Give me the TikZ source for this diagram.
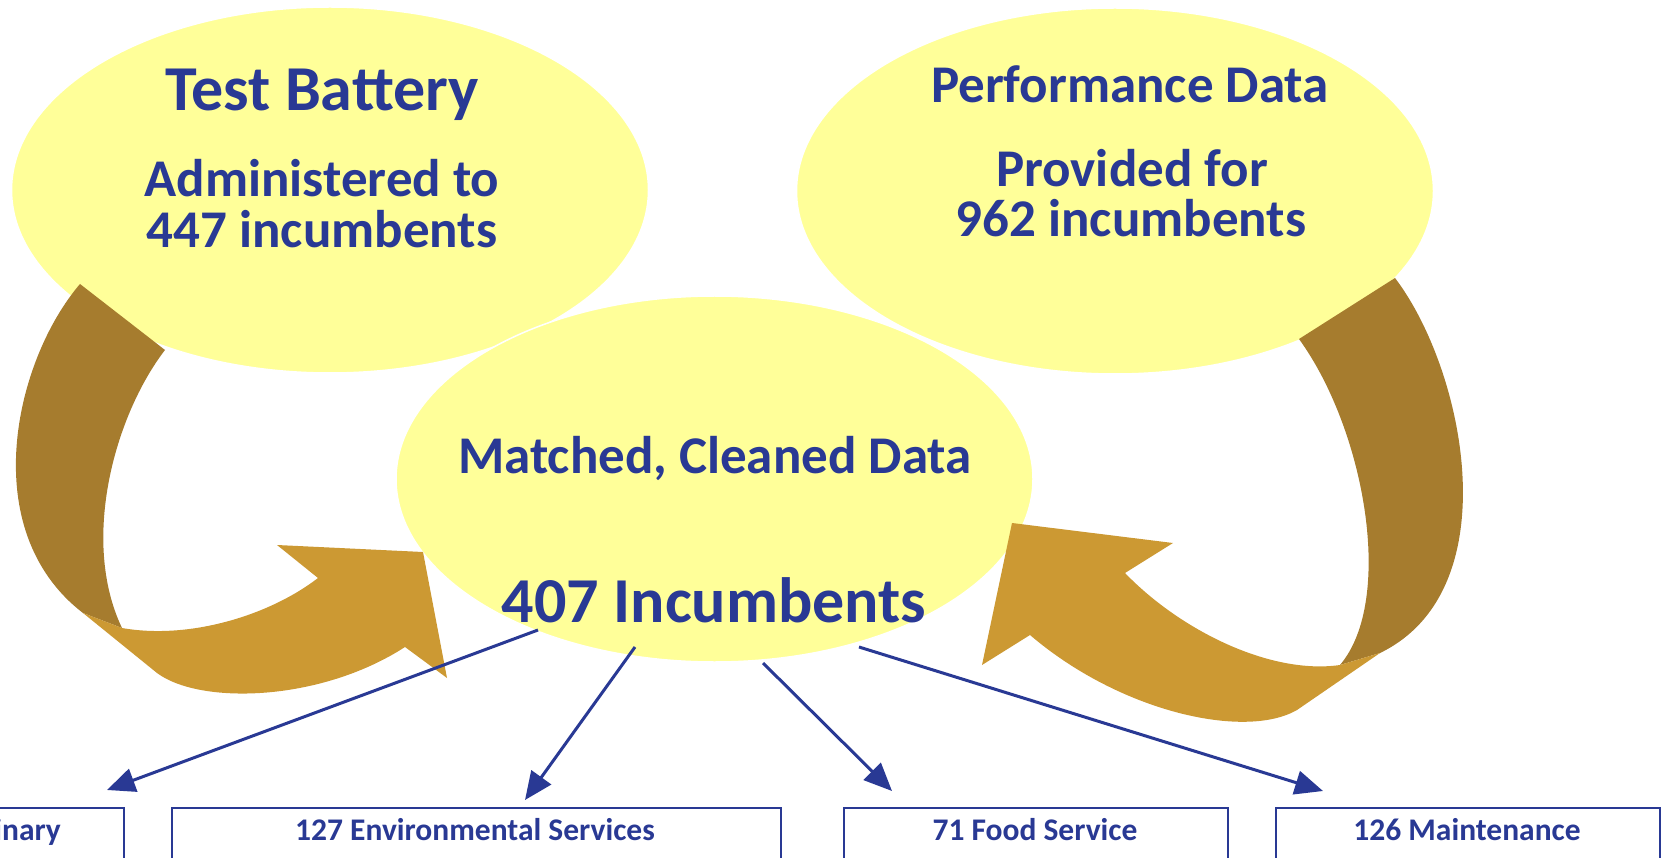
\documentclass[tikz,border=0pt]{standalone}
\usepackage{fontspec}
\setmainfont{Carlito}
\usetikzlibrary{shapes.geometric,arrows.meta}

\definecolor{blobfill}{HTML}{FFFF99}
\definecolor{ink}{RGB}{41,57,148}
\definecolor{tailbrown}{RGB}{166,124,46}
\definecolor{headgold}{RGB}{204,153,51}

\tikzset{
  blob/.style={ellipse, fill=blobfill, draw=white, line width=1.5pt,
    minimum width=637pt, minimum height=366pt, inner sep=0pt},
  bigtxt/.style={text=ink, anchor=base, inner sep=0pt,
    font=\fontsize{64}{64}\selectfont\bfseries},
  midtxt/.style={text=ink, anchor=base, inner sep=0pt,
    font=\fontsize{53}{53}\selectfont\bfseries},
  boxtxt/.style={text=ink, anchor=base, inner sep=0pt,
    font=\fontsize{31.5}{31.5}\selectfont\bfseries},
  groupbox/.style={draw=ink, line width=2pt, rectangle, anchor=north west,
    minimum height=90pt, inner sep=0pt},
  feed/.style={draw=ink, line width=3pt, -{Triangle[length=28pt,width=24pt]}},
}

\begin{document}
\begin{tikzpicture}[x=1pt,y=-1pt]
\useasboundingbox (0,0) rectangle (1662,858);

% the three data sets
\node[blob] (battery) at (330,190) {};
\node[blob] (perf) at (1115,191) {};
\node[blob] (matched) at (714.5,479) {};

% curved arrow on the left: back face, then front face with head
\fill[tailbrown]
  (80,284) .. controls (15,360) and (-25,530) .. (83,613)
  -- (122,628) .. controls (80,540) and (115,415) .. (165,350)
  -- cycle;
\fill[headgold]
  (83,613) -- (157,673) .. controls (200,705) and (320,702) .. (405,647)
  -- (447,678) -- (423,552) -- (277,545) -- (318,578)
  .. controls (270,615) and (190,640) .. (122,628)
  -- cycle;

% curved arrow on the right
\fill[tailbrown]
  (1395,278) .. controls (1465,370) and (1510,590) .. (1380,653)
  -- (1340,665) .. controls (1395,600) and (1365,430) .. (1299,339)
  -- cycle;
\fill[headgold]
  (1380,653) -- (1297,710) .. controls (1245,740) and (1120,712) .. (1030,635)
  -- (982,665) -- (1012,523) -- (1173,543) -- (1125,573)
  .. controls (1180,630) and (1270,675) .. (1340,665)
  -- cycle;

% ellipse texts
\node[bigtxt] (tbtitle) at (322,111) {Test Battery};
\node[midtxt] (tbl1) at (322,197) {Administered to};
\node[midtxt] (tbl2) at (322,248) {447 incumbents};

\node[midtxt] (pdtitle) at (1130,103) {Performance Data};
\node[midtxt] (pdl1) at (1132,187) {Provided for};
\node[midtxt] (pdl2) at (1131,237) {962 incumbents};

\node[midtxt] (mctitle) at (715,473) {Matched, Cleaned Data};
\node[bigtxt] (mccount) at (714,622) {407 Incumbents};

% job groups
\node[groupbox, minimum width=140pt] (g1) at (-17,807) {};
\node[groupbox, minimum width=609pt] (g2) at (171,807) {};
\node[groupbox, minimum width=384pt] (g3) at (843,807) {};
\node[groupbox, minimum width=384pt] (g4) at (1275,807) {};

\node[boxtxt, anchor=base east] (g1t) at (61,840) {inary};
\node[boxtxt] (g2t) at (475,840) {127 Environmental Services};
\node[boxtxt] (g3t) at (1035,840) {71 Food Service};
\node[boxtxt] (g4t) at (1467,840) {126 Maintenance};

% split of the matched sample
\coordinate (s1) at (538,630);
\coordinate (s2) at (635,647);
\coordinate (s3) at (763,663);
\coordinate (s4) at (859,647);
\coordinate (t1) at (107,790);
\coordinate (t2) at (525,800);
\coordinate (t3) at (892,791);
\coordinate (t4) at (1323,791);
\draw[feed] (s1) -- (t1);
\draw[feed] (s2) -- (t2);
\draw[feed] (s3) -- (t3);
\draw[feed] (s4) -- (t4);
\end{tikzpicture}
\end{document}
